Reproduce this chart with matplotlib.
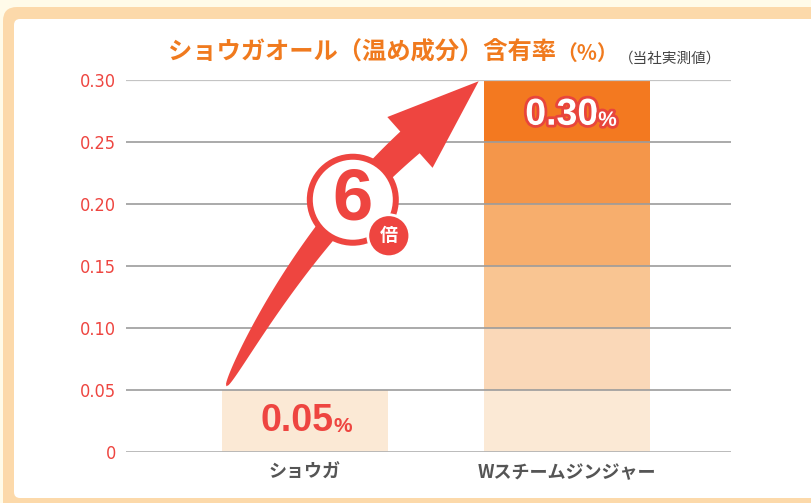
import numpy as np
import matplotlib
matplotlib.use("Agg")
import matplotlib.pyplot as plt
import matplotlib.patheffects as pe
from matplotlib.patches import FancyBboxPatch, Polygon, Circle


categories = ["ショウガ", "Wスチームジンジャー"]
values = [0.05, 0.30]
value_labels = ["0.05", "0.30"]
yticks = [0, 0.05, 0.10, 0.15, 0.20, 0.25, 0.30]
ytick_labels = ["0", "0.05", "0.10", "0.15", "0.20", "0.25", "0.30"]
ratio_label = "6"
title_main = "ショウガオール（温め成分）含有率"
title_unit = "（%）"
note = "（当社実測値）"

JP = ["Noto Sans CJK JP", "DejaVu Sans"]
NUM = ["Liberation Sans", "DejaVu Sans"]

RED = "#ee4540"
ORANGE = "#f07a1e"
# segment colours of the big bar, bottom to top
SEG_COLORS = ["#fbe9d5", "#fad8b8", "#f9c592", "#f7ae6d", "#f4964a", "#f37920"]

W, H = 811, 503
fig = plt.figure(figsize=(W / 100, H / 100), dpi=100)
fig.patch.set_facecolor("#fffbe9")

# background frame
bg = fig.add_axes([0, 0, 1, 1], zorder=-2)
bg.set_xlim(0, W)
bg.set_ylim(0, H)
bg.axis("off")
bg.add_patch(FancyBboxPatch((3, -40), 900, 536, boxstyle="round,pad=0,rounding_size=14",
                            fc="#fcd9aa", ec="none"))
bg.add_patch(FancyBboxPatch((14, 5), 900, 479, boxstyle="round,pad=0,rounding_size=6",
                            fc="white", ec="none"))

ax = fig.add_axes([126 / W, 51 / H, 605 / W, 372 / H])
ax.set_facecolor("none")
x = np.arange(len(categories))
bar_w = 0.634

# small bar
ax.bar(x[0], values[0], width=bar_w, color=SEG_COLORS[0], zorder=1)
# big bar, banded between the grid values
for i in range(len(yticks) - 1):
    lo, hi = yticks[i], min(yticks[i + 1], values[1])
    if lo >= values[1]:
        break
    ax.bar(x[1], hi - lo, bottom=lo, width=bar_w, color=SEG_COLORS[i], zorder=1)

for v in yticks:
    if v == yticks[-1]:
        ax.axhline(v, color="#c4c4c4", lw=1.6, zorder=2)
    elif v == 0:
        ax.axhline(v, color="#b4b4b4", lw=2.0, zorder=2)
    else:
        ax.axhline(v, color="#9c9c9c", lw=1.2, zorder=2)

ax.set_xlim(-0.683, 1.626)
ax.set_ylim(0, 0.30)
ax.set_yticks(yticks)
ax.set_yticklabels(ytick_labels, family="DejaVu Sans", stretch="condensed",
                   fontsize=13, color=RED)
ax.set_xticks(x)
ax.set_xticklabels(categories, family=JP, fontsize=13, fontweight="bold", color="#555555")
ax.tick_params(length=0)
ax.tick_params(axis="y", pad=7)
ax.tick_params(axis="x", pad=8)
for s in ax.spines.values():
    s.set_visible(False)

# value labels
t0 = ax.text(x[0] - 0.03, values[0] / 2, value_labels[0], family=NUM, fontweight="bold",
             fontsize=27, color=RED, ha="center", va="center", zorder=4)
ax.annotate("%", xy=(1, 0.08), xycoords=t0, fontsize=15, fontweight="bold", family=NUM,
            color=RED, va="bottom", ha="left", zorder=4)
glow = [pe.withStroke(linewidth=4, foreground="#e8453c")]
t1 = ax.text(x[1] - 0.02, values[1] - 0.028, value_labels[1], family=NUM, fontweight="bold",
             fontsize=27, color="white", ha="center", va="center", zorder=4, path_effects=glow)
ax.annotate("%", xy=(1, 0.08), xycoords=t1, fontsize=15, fontweight="bold", family=NUM,
            color="white", va="bottom", ha="left", zorder=4, path_effects=glow)

# title
ov = fig.add_axes([0, 0, 1, 1], zorder=3)
ov.set_xlim(0, W)
ov.set_ylim(0, H)
ov.axis("off")
tt = ov.text(168, 450, title_main, family=JP, fontsize=17.5, fontweight="bold",
             color=ORANGE, ha="left", va="center")
ov.annotate(title_unit, xy=(1, 0.5), xycoords=tt, family=JP, fontsize=15, fontweight="bold",
            color=ORANGE, ha="left", va="center")
ov.text(619, 444, note, family=JP, fontsize=10.5, color="#444444", ha="left", va="center")

# growth arrow, anchored to the two bar tops
to_px = ax.transData.transform
tail = to_px((x[0] - 0.30, values[0] + 0.003))
tip = to_px((x[1] - bar_w / 2 - 0.02, values[1] - 0.001))
d = np.array([0.747, 0.665])
n = np.array([-d[1], d[0]])
head_len, head_half = 92, 34
base = tip - head_len * d
ctrl = base - 140 * d
t = np.linspace(0, 1, 160)[:, None]
curve = (1 - t) ** 2 * tail + 2 * t * (1 - t) * ctrl + t ** 2 * base
deriv = 2 * (1 - t) * (ctrl - tail) + 2 * t * (base - ctrl)
deriv = deriv / np.linalg.norm(deriv, axis=1, keepdims=True)
norm = np.column_stack([-deriv[:, 1], deriv[:, 0]])
half = 14.5 * t ** 0.45
left = curve + norm * half
right = curve - norm * half
pts = np.vstack([left, [base + n * head_half, tip, base - n * head_half], right[::-1]])
ov.add_patch(Polygon(pts, closed=True, fc=RED, ec="none"))

# "6 倍" badge on the arrow
k = int(0.72 * (len(t) - 1))
c = curve[k]
ov.add_patch(Circle(c, 46, fc=RED, ec="none"))
ov.add_patch(Circle(c, 40, fc="white", ec="none"))
ov.text(c[0], c[1] - 1, ratio_label, family=NUM, fontweight="bold", fontsize=52,
        color=RED, ha="center", va="center")
c2 = c + np.array([36, -36])
ov.add_patch(Circle(c2, 21, fc=RED, ec="white", lw=2))
ov.text(c2[0], c2[1], "倍", family=JP, fontweight="bold", fontsize=13,
        color="white", ha="center", va="center")

fig.savefig("out.png", dpi=100)
